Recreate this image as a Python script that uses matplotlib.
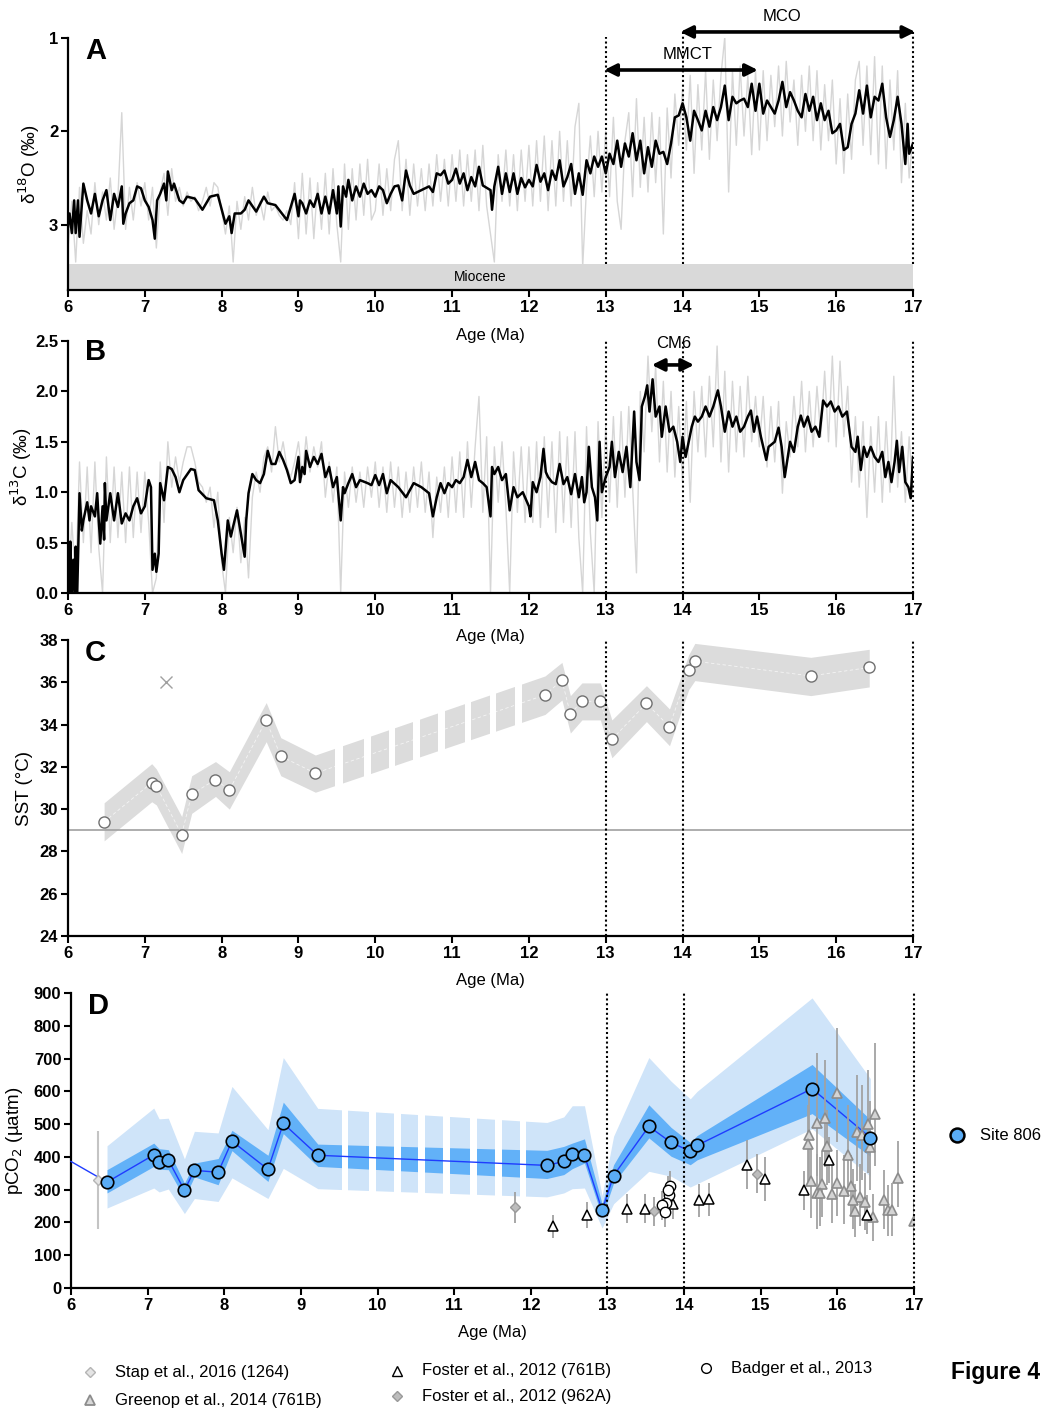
import numpy as np
import matplotlib
matplotlib.use("Agg")
import matplotlib.pyplot as plt

plt.rcParams['font.family'] = ['Liberation Sans', 'DejaVu Sans']

W, H = 1045, 1408

# ---------------- data ----------------
# panel A, d18O: smoothed record (black)
a_age = [6.00, 6.02, 6.05, 6.08, 6.10, 6.13, 6.15, 6.20, 6.25, 6.30, 6.35, 6.40, 6.45, 6.50, 6.55, 6.60,
         6.65, 6.70, 6.72, 6.75, 6.80, 6.85, 6.90, 6.95, 7.00, 7.05, 7.10, 7.13, 7.16, 7.20, 7.25, 7.28,
         7.30, 7.35, 7.38, 7.45, 7.50, 7.55, 7.65, 7.75, 7.85, 7.95, 8.05, 8.10, 8.13, 8.17, 8.25, 8.30,
         8.35, 8.45, 8.55, 8.60, 8.70, 8.85, 8.95, 9.00, 9.02, 9.05, 9.10, 9.15, 9.20, 9.25, 9.30, 9.35,
         9.40, 9.45, 9.50, 9.52, 9.55, 9.58, 9.62, 9.65, 9.70, 9.75, 9.80, 9.85, 9.90, 9.95, 10.00, 10.05,
         10.10, 10.15, 10.20, 10.25, 10.30, 10.35, 10.40, 10.45, 10.50, 10.60, 10.70, 10.75, 10.80, 10.85,
         10.90, 10.95, 11.00, 11.05, 11.10, 11.15, 11.20, 11.25, 11.30, 11.35, 11.40, 11.50, 11.52, 11.55,
         11.60, 11.65, 11.70, 11.75, 11.80, 11.85, 11.90, 11.95, 12.00, 12.05, 12.10, 12.15, 12.20, 12.25,
         12.30, 12.35, 12.40, 12.45, 12.50, 12.55, 12.60, 12.65, 12.70, 12.75, 12.80, 12.85, 12.90, 12.95,
         13.00, 13.05, 13.10, 13.15, 13.20, 13.25, 13.30, 13.35, 13.40, 13.45, 13.50, 13.55, 13.60, 13.65,
         13.70, 13.75, 13.80, 13.85, 13.90, 13.95, 14.00, 14.05, 14.10, 14.15, 14.20, 14.25, 14.30, 14.35,
         14.40, 14.45, 14.50, 14.55, 14.60, 14.65, 14.70, 14.75, 14.80, 14.85, 14.90, 14.95, 15.00, 15.05,
         15.10, 15.15, 15.20, 15.25, 15.30, 15.35, 15.40, 15.45, 15.50, 15.55, 15.60, 15.65, 15.70, 15.75,
         15.80, 15.85, 15.90, 15.95, 16.00, 16.05, 16.10, 16.15, 16.20, 16.25, 16.30, 16.35, 16.40, 16.45,
         16.50, 16.55, 16.60, 16.65, 16.70, 16.75, 16.80, 16.85, 16.90, 16.93, 16.95, 17.00]
a_d18o = [3.02, 2.88, 3.09, 2.74, 3.09, 2.74, 3.13, 2.56, 2.74, 2.88, 2.67, 2.91, 2.74, 2.63, 2.95, 2.67,
          2.81, 2.59, 2.99, 2.88, 2.77, 2.74, 2.59, 2.61, 2.74, 2.81, 2.95, 3.15, 2.74, 2.67, 2.56, 2.74,
          2.43, 2.63, 2.56, 2.74, 2.77, 2.70, 2.72, 2.84, 2.70, 2.68, 2.99, 2.91, 3.09, 2.88, 2.88, 2.84,
          2.74, 2.86, 2.70, 2.77, 2.79, 2.95, 2.67, 2.91, 2.74, 2.77, 2.88, 2.74, 2.81, 2.67, 2.88, 2.70,
          2.88, 2.63, 2.88, 2.59, 3.02, 2.59, 2.70, 2.52, 2.74, 2.59, 2.70, 2.56, 2.67, 2.63, 2.70, 2.59,
          2.63, 2.77, 2.67, 2.59, 2.58, 2.74, 2.42, 2.58, 2.67, 2.63, 2.59, 2.65, 2.45, 2.47,
          2.42, 2.56, 2.52, 2.40, 2.56, 2.45, 2.63, 2.49, 2.59, 2.38, 2.58, 2.63, 2.84, 2.59,
          2.38, 2.67, 2.45, 2.65, 2.45, 2.67, 2.50, 2.60, 2.52, 2.59, 2.36, 2.54, 2.45, 2.63,
          2.42, 2.52, 2.31, 2.59, 2.49, 2.35, 2.67, 2.45, 2.68, 2.31, 2.45, 2.27, 2.38, 2.27,
          2.45, 2.24, 2.35, 2.10, 2.38, 2.13, 2.27, 2.02, 2.31, 2.10, 2.45, 2.17, 2.38, 2.10,
          2.24, 2.22, 2.35, 2.13, 1.85, 1.83, 1.70, 1.85, 2.10, 1.78, 1.88, 1.99, 1.78, 1.95,
          1.74, 1.88, 1.74, 1.51, 1.88, 1.63, 1.70, 1.67, 1.65, 1.74, 1.49, 1.78, 1.49, 1.81,
          1.67, 1.74, 1.81, 1.67, 1.47, 1.74, 1.58, 1.67, 1.78, 1.85, 1.60, 1.78, 1.63, 1.88,
          1.70, 1.88, 1.78, 2.02, 1.99, 1.92, 2.20, 2.17, 1.92, 1.81, 1.56, 1.81, 1.51, 1.85,
          1.63, 1.67, 1.49, 1.85, 2.06, 1.88, 1.63, 1.92, 2.35, 1.92, 2.24, 2.13]

# panel A, d18O: raw record (grey), every 0.05 Ma from 6 to 17
raw_age = np.round(np.linspace(6, 17, 221), 2)
a_raw = [3.25, 2.75, 3.40, 2.60, 3.20, 2.85, 3.10, 2.55, 3.00, 2.65, 2.95, 2.50, 3.05, 2.70, 1.80, 3.05, 2.60, 2.95, 2.55, 2.80,
         2.55, 2.95, 2.60, 3.25, 2.65, 2.45, 2.90, 2.40, 2.75, 2.60, 2.80, 2.65, 2.75, 2.70, 2.85, 2.75, 2.60, 2.80, 2.55, 2.60,
         2.85, 3.10, 2.80, 3.40, 2.75, 3.05, 2.70, 2.95, 2.60, 2.90, 2.75, 2.95, 2.65, 2.85, 2.80, 2.90, 2.95, 2.85, 3.00, 2.55,
         3.15, 2.45, 3.10, 2.50, 3.15, 2.55, 3.05, 2.45, 3.10, 2.40, 3.00, 3.40, 2.35, 3.05, 2.40, 2.95, 2.35, 2.90, 2.30, 2.95,
         2.85, 2.35, 2.90, 2.40, 2.85, 2.30, 2.10, 2.85, 2.30, 2.90, 2.35, 2.80, 2.40, 2.85, 2.35, 2.80, 2.25, 2.75, 2.30, 2.80,
         2.25, 2.75, 2.20, 2.80, 2.25, 2.75, 2.20, 2.85, 2.15, 2.80, 3.10, 3.40, 2.25, 2.75, 2.20, 2.80, 2.25, 2.85, 2.20, 2.75,
         2.15, 2.80, 2.10, 2.75, 2.05, 2.85, 2.10, 2.80, 2.00, 2.75, 2.10, 2.80, 1.95, 1.70, 3.45, 2.60, 2.05, 2.70, 2.00, 2.65,
         2.00, 2.70, 1.85, 2.75, 3.05, 2.10, 1.80, 2.70, 1.65, 2.60, 1.85, 2.65, 1.80, 2.55, 1.85, 3.10, 1.75, 2.50, 1.60, 2.15,
         1.55, 2.20, 1.40, 2.45, 1.50, 2.20, 1.35, 2.30, 1.45, 2.10, 1.40, 0.99, 2.65, 1.35, 2.15, 1.30, 2.05, 1.40, 2.25, 1.35,
         2.20, 1.35, 2.10, 1.40, 1.95, 1.30, 2.05, 1.25, 1.90, 1.45, 2.15, 1.40, 2.00, 1.30, 2.10, 1.35, 2.20, 1.50, 2.10, 1.45,
         2.35, 1.65, 2.45, 1.60, 2.30, 1.45, 1.25, 2.15, 1.30, 2.25, 1.20, 2.35, 1.30, 2.40, 1.45, 2.20, 1.35, 2.55, 1.70, 2.50,
         2.05]

# panel B, d13C: smoothed record (black)
b_age = [6.00, 6.02, 6.03, 6.05, 6.07, 6.09, 6.10, 6.12, 6.15, 6.18, 6.20, 6.25, 6.28, 6.30, 6.35, 6.38,
         6.40, 6.42, 6.45, 6.47, 6.48, 6.50, 6.55, 6.60, 6.65, 6.70, 6.75, 6.80, 6.85, 6.90, 6.95, 7.00,
         7.05, 7.08, 7.10, 7.13, 7.15, 7.18, 7.20, 7.25, 7.30, 7.35, 7.40, 7.45, 7.50, 7.60, 7.65, 7.70,
         7.80, 7.90, 7.95, 8.00, 8.03, 8.08, 8.12, 8.15, 8.20, 8.25, 8.30, 8.32, 8.35, 8.40, 8.45, 8.50,
         8.55, 8.60, 8.65, 8.70, 8.75, 8.80, 8.85, 8.90, 8.95, 9.00, 9.02, 9.05, 9.08, 9.10, 9.15, 9.20,
         9.25, 9.30, 9.35, 9.40, 9.45, 9.50, 9.55, 9.58, 9.60, 9.65, 9.70, 9.75, 9.80, 9.90, 9.95, 10.00,
         10.05, 10.10, 10.15, 10.20, 10.30, 10.40, 10.45, 10.50, 10.60, 10.70, 10.75, 10.80, 10.85, 10.90,
         10.95, 11.00, 11.05, 11.10, 11.15, 11.20, 11.25, 11.30, 11.35, 11.40, 11.45, 11.50, 11.52, 11.55,
         11.60, 11.65, 11.70, 11.75, 11.80, 11.85, 11.92, 12.00, 12.02, 12.05, 12.10, 12.15, 12.19, 12.22,
         12.25, 12.30, 12.35, 12.40, 12.45, 12.50, 12.55, 12.60, 12.65, 12.69, 12.72, 12.75, 12.78, 12.82,
         12.86, 12.89, 12.92, 12.95, 13.00, 13.05, 13.08, 13.12, 13.17, 13.22, 13.27, 13.32, 13.35, 13.37,
         13.40, 13.44, 13.47, 13.51, 13.54, 13.57, 13.61, 13.65, 13.70, 13.73, 13.78, 13.83, 13.88, 13.93,
         13.97, 14.00, 14.04, 14.08, 14.12, 14.16, 14.20, 14.25, 14.30, 14.35, 14.40, 14.46, 14.50, 14.55,
         14.60, 14.65, 14.70, 14.75, 14.80, 14.85, 14.89, 14.93, 14.97, 15.02, 15.09, 15.12, 15.20, 15.25,
         15.29, 15.33, 15.37, 15.40, 15.45, 15.50, 15.54, 15.58, 15.63, 15.68, 15.73, 15.78, 15.83, 15.88,
         15.93, 15.98, 16.03, 16.08, 16.14, 16.20, 16.25, 16.28, 16.32, 16.36, 16.40, 16.45, 16.50, 16.55,
         16.60, 16.64, 16.68, 16.72, 16.76, 16.79, 16.82, 16.86, 16.90, 16.94, 16.97, 17.00]
b_d13c = [0.39, 0.00, 0.51, 0.00, 0.33, 0.00, 0.46, 0.00, 0.99, 0.62, 0.72, 0.90, 0.72, 0.86, 0.76, 0.99,
          0.72, 0.49, 0.86, 0.53, 1.09, 0.72, 0.99, 0.72, 0.99, 0.69, 0.79, 0.72, 0.86, 0.94, 0.79, 0.86,
          1.12, 1.05, 0.23, 0.39, 0.21, 0.39, 1.09, 0.92, 1.25, 1.23, 1.15, 1.00, 1.12, 1.23, 1.22, 1.02,
          0.94, 0.92, 0.72, 0.39, 0.23, 0.72, 0.56, 0.66, 0.82, 0.59, 0.36, 0.72, 0.99, 1.18, 1.12, 1.09,
          1.18, 1.41, 1.28, 1.28, 1.40, 1.32, 1.22, 1.09, 1.12, 1.35, 1.10, 1.25, 1.18, 1.41, 1.25, 1.35,
          1.28, 1.38, 1.15, 1.25, 1.05, 1.15, 0.72, 1.05, 0.99, 1.09, 1.18, 1.05, 1.12, 1.09, 1.07, 1.17,
          1.07, 1.18, 0.99, 1.12, 1.05, 0.95, 1.02, 1.09, 1.05, 0.99, 0.76, 0.95, 1.09, 0.99,
          1.09, 1.05, 1.12, 1.09, 1.15, 1.32, 1.15, 1.30, 1.12, 1.09, 1.05, 0.76, 1.25, 1.18,
          1.25, 1.12, 1.18, 0.82, 1.05, 0.95, 1.00, 0.86, 0.76, 1.10, 1.00, 1.15, 1.43, 1.20,
          1.15, 1.10, 1.08, 1.28, 1.08, 1.15, 0.98, 1.18, 0.95, 1.15, 0.90, 1.00, 1.45, 1.05,
          0.95, 0.72, 1.50, 1.00, 1.15, 1.25, 1.50, 1.15, 1.40, 1.20, 1.45, 1.05, 1.50, 1.80,
          1.30, 1.12, 1.85, 1.95, 2.06, 1.80, 2.12, 1.75, 1.85, 1.55, 1.85, 1.60, 1.65, 1.50,
          1.30, 1.55, 1.35, 1.50, 1.65, 1.75, 1.70, 1.75, 1.85, 1.75, 1.85, 2.01, 1.85, 1.60,
          1.80, 1.65, 1.75, 1.60, 1.65, 1.75, 1.81, 1.60, 1.75, 1.55, 1.32, 1.45, 1.50, 1.64,
          1.45, 1.15, 1.35, 1.50, 1.40, 1.65, 1.76, 1.65, 1.75, 1.60, 1.65, 1.55, 1.91, 1.85,
          1.90, 1.80, 1.85, 1.75, 1.80, 1.45, 1.40, 1.55, 1.22, 1.45, 1.35, 1.45, 1.35, 1.30,
          1.40, 1.15, 1.30, 1.10, 1.30, 1.51, 1.20, 1.45, 1.10, 1.05, 0.94, 1.35]

# panel B, d13C: raw record (grey), same 0.05 Ma grid
b_raw = [0.00, 0.70, 0.10, 1.30, 0.50, 1.25, 0.40, 1.30, 0.45, 0.00, 1.35, 0.50, 1.25, 0.55, 1.20, 0.50, 1.25, 0.55, 1.20, 0.60,
         1.20, 0.70, 0.00, 0.15, 1.30, 0.70, 1.50, 1.05, 1.35, 1.10, 1.30, 1.45, 1.45, 1.30, 1.10, 1.05, 0.90, 1.05, 0.65, 1.00,
         0.30, 0.00, 0.75, 0.40, 0.85, 0.30, 0.75, 0.15, 0.95, 1.20, 1.00, 1.35, 1.45, 1.20, 1.65, 1.30, 1.50, 1.25, 1.15, 1.30,
         1.50, 1.15, 1.55, 1.20, 1.45, 1.25, 1.50, 0.95, 1.30, 0.90, 1.25, 0.00, 1.20, 0.85, 1.25, 0.90, 1.20, 0.85, 1.25, 0.95,
         1.30, 0.85, 1.25, 0.80, 1.30, 0.85, 1.25, 0.75, 1.20, 0.80, 1.25, 0.85, 1.30, 0.80, 1.20, 0.55, 1.15, 0.80, 1.25, 0.75,
         1.35, 0.80, 1.40, 0.75, 1.50, 0.85, 1.45, 1.95, 0.80, 1.55, 0.00, 1.45, 0.90, 1.50, 0.85, 0.00, 1.40, 0.80, 1.45, 0.70,
         1.45, 0.70, 1.50, 0.65, 1.55, 0.75, 1.50, 0.60, 1.60, 0.70, 1.55, 0.65, 1.60, 0.55, 0.00, 1.65, 0.60, 0.00, 1.70, 0.75,
         1.65, 0.90, 1.75, 0.85, 1.80, 0.95, 1.85, 1.05, 0.20, 2.00, 1.40, 2.35, 1.60, 2.25, 1.30, 2.10, 1.20, 2.00, 1.15, 1.85,
         1.10, 1.90, 0.90, 2.00, 1.40, 2.05, 1.35, 2.15, 1.45, 2.45, 1.30, 2.20, 1.20, 2.10, 1.40, 2.05, 1.35, 2.15, 1.50, 1.95,
         1.45, 1.95, 1.25, 1.85, 1.30, 1.90, 0.99, 1.70, 1.35, 1.95, 1.45, 2.10, 1.40, 2.00, 1.45, 2.05, 1.55, 2.20, 1.50, 2.35,
         1.45, 2.30, 1.55, 2.05, 1.10, 1.75, 1.05, 1.70, 0.75, 1.65, 1.00, 1.75, 0.90, 1.70, 1.00, 2.15, 1.05, 1.60, 0.90, 1.55,
         1.00]

# panel C, SST
sst_age = [6.47, 7.09, 7.15, 7.48, 7.61, 7.92, 8.10, 8.58, 8.77, 9.22, 12.21,
           12.43, 12.54, 12.69, 12.93, 13.08, 13.53, 13.83, 14.08, 14.16, 15.67, 16.43]
sst = [29.4, 31.25, 31.1, 28.8, 30.7, 31.4, 30.9, 34.2, 32.5, 31.7, 35.4,
       36.1, 34.5, 35.1, 35.1, 33.3, 35.0, 33.9, 36.6, 37.0, 36.3, 36.7]
sst_hi = [30.3, 32.15, 31.9, 29.65, 31.58, 32.25, 31.77, 35.04, 33.38, 32.56, 36.3,
          36.94, 35.37, 35.97, 35.97, 34.22, 35.84, 34.74, 37.3, 37.84, 37.18, 37.56]
sst_lo = [28.5, 30.35, 30.2, 27.9, 29.8, 30.6, 30.0, 33.19, 31.58, 30.8, 34.48,
          35.16, 33.6, 34.22, 34.22, 32.43, 34.14, 33.0, 35.65, 36.08, 35.37, 35.78]
sst_x_age, sst_x = 7.27, 36.0          # outlier (cross)
modern_sst = 29.0

# panel D, pCO2 Site 806
co2_age = [6.47, 7.08, 7.15, 7.27, 7.48, 7.61, 7.92, 8.10, 8.57, 8.77, 9.22, 12.21,
           12.43, 12.54, 12.70, 12.93, 13.08, 13.54, 13.83, 14.08, 14.17, 15.67, 16.43]
co2 = [323, 406, 383, 391, 298, 359, 353, 448, 362, 502, 405, 374,
       386, 410, 405, 237, 343, 493, 444, 417, 435, 608, 459]
co2_hi1 = [361, 442, 425, 422, 320, 381, 395, 481, 405, 567, 439, 420,
           432, 442, 455, 257, 376, 559, 490, 444, 465, 682, 514]
co2_lo1 = [290, 371, 362, 361, 275, 339, 315, 419, 325, 471, 371, 334,
           346, 364, 381, 217, 320, 458, 402, 376, 391, 532, 402]
co2_hi2 = [434, 549, 516, 518, 394, 478, 473, 615, 483, 703, 548, 505,
           522, 556, 556, 282, 463, 703, 631, 577, 600, 885, 639]
co2_lo2 = [244, 305, 293, 302, 227, 273, 264, 336, 273, 365, 303, 278,
           290, 303, 305, 183, 257, 356, 341, 308, 318, 486, 341]
co2_lead_age, co2_lead = 6.0, 386      # line coming in from older part of record

# other pCO2 records
stap_age, stap, stap_err = [6.35], [330], [150]
foster962_age = [11.80, 13.61, 14.955]
foster962 = [246, 234, 349]
foster962_err = [48, 45, 60]
foster761_age = [12.29, 12.735, 13.26, 13.49, 13.85, 14.19, 14.33, 14.82, 15.06, 15.57, 15.89, 16.39]
foster761 = [188, 222, 242, 242, 256, 267, 271, 376, 333, 298, 391, 224]
foster761_err = [35, 40, 45, 45, 45, 50, 50, 75, 68, 60, 70, 60]
badger_age = [13.82, 13.80, 13.79, 13.76, 13.71, 13.755]
badger = [312, 284, 298, 259, 252, 231]
badger_err = [45, 45, 45, 45, 45, 45]
greenop_age = [16.00, 16.49, 15.84, 15.74, 16.395, 16.25, 16.32, 15.63, 15.62, 16.43, 15.86, 16.14, 16.79, 15.66, 15.80,
               15.99, 16.18, 15.73, 15.77, 15.93, 16.09, 16.29, 16.21, 16.36, 16.61, 16.23, 16.66, 16.71, 17.00, 16.46]
greenop = [595, 531, 520, 503, 500, 475, 468, 468, 439, 429, 434, 407, 337, 325, 317,
           320, 310, 290, 290, 287, 295, 279, 269, 262, 269, 236, 239, 239, 203, 218]
greenop_up = [198, 216, 176, 214, 166, 175, 152, 127, 120, 140, 110, 150, 110, 110, 100,
              100, 95, 120, 110, 90, 110, 100, 95, 90, 90, 80, 75, 80, 70, 70]
greenop_dn = [150, 160, 150, 160, 150, 150, 140, 140, 120, 130, 120, 130, 90, 110, 100,
              100, 90, 110, 100, 90, 100, 90, 90, 85, 90, 80, 80, 80, 70, 75]

events = [13, 14, 17]
sst_gaps = [(9.48, 9.58), (9.855, 9.94), (10.18, 10.26), (10.49, 10.58),
            (10.82, 10.91), (11.17, 11.25), (11.49, 11.57), (11.82, 11.91)]
co2_gaps = [(9.53, 9.62), (9.89, 9.98), (10.22, 10.30), (10.53, 10.62),
            (10.86, 10.95), (11.20, 11.30), (11.53, 11.62), (11.86, 11.94)]

# ---------------- figure ----------------
fig = plt.figure(figsize=(W / 100, H / 100), dpi=100)


def px_axes(l, t, r, b):
    ax = fig.add_axes([l / W, 1 - b / H, (r - l) / W, (b - t) / H])
    ax.patch.set_visible(False)      # so the "Age (Ma)" of the panel above is not hidden
    return ax


def style(ax):
    for s in ['top', 'right']:
        ax.spines[s].set_visible(False)
    for s in ['left', 'bottom']:
        ax.spines[s].set_linewidth(1.6)
    ax.tick_params(width=1.5, length=5, labelsize=12, pad=2)
    for lab in ax.get_xticklabels() + ax.get_yticklabels():
        lab.set_fontweight('bold')
    ax.set_xlim(6, 17)
    ax.set_xticks(range(6, 18))
    ax.set_xlabel('Age (Ma)', fontsize=12)


def dotted(ax, x, y0=0, y1=1):
    ax.axvline(x, ymin=y0, ymax=y1, color='k', lw=1.5, ls=(0, (1, 1.3)), clip_on=False, zorder=6)


# ----- A -----
axA = px_axes(68, 38, 913, 290)
axA.plot(raw_age, a_raw, color='#d6d6d6', lw=1, zorder=1)
axA.plot(a_age, a_d18o, color='k', lw=1.8, zorder=3)
axA.axhspan(3.42, 3.7, color='#d9d9d9', zorder=2, lw=0)
axA.text(11.36, 3.56, 'Miocene', ha='center', va='center', fontsize=10, zorder=4)
axA.set_ylim(3.7, 1)
axA.set_yticks([1, 2, 3])
style(axA)
axA.xaxis.set_label_coords(0.5, -0.15)
axA.set_ylabel(r'δ$^{18}$O (‰)', fontsize=13.5)
axA.yaxis.set_label_coords(-0.031, 0.5)
axA.text(0.02, 0.95, 'A', transform=axA.transAxes, fontsize=21, fontweight='bold', va='center')
dotted(axA, 13, 0.103, 1.004)
dotted(axA, 14, 0.103, 1.03)
dotted(axA, 17, 0.103, 1.03)
arrow = dict(arrowstyle='<|-|>', lw=2.6, color='k', mutation_scale=18, shrinkA=0, shrinkB=0)
axA.annotate('', xy=(17.03, 1.024), xytext=(13.97, 1.024), xycoords=('data', 'axes fraction'),
             textcoords=('data', 'axes fraction'), arrowprops=arrow, annotation_clip=False)
axA.annotate('', xy=(14.98, 0.873), xytext=(12.98, 0.873), xycoords=('data', 'axes fraction'),
             textcoords=('data', 'axes fraction'), arrowprops=arrow, annotation_clip=False)
axA.text(15.3, 1.087, 'MCO', transform=axA.get_xaxis_transform(), ha='center', va='center', fontsize=12)
axA.text(14.07, 0.933, 'MMCT', transform=axA.get_xaxis_transform(), ha='center', va='center', fontsize=12)

# ----- B -----
axB = px_axes(68, 341, 913, 593)
axB.plot(raw_age, b_raw, color='#d6d6d6', lw=1, zorder=1)
axB.plot(b_age, b_d13c, color='k', lw=1.8, zorder=3)
axB.set_ylim(0, 2.5)
axB.set_yticks([0, 0.5, 1.0, 1.5, 2.0, 2.5])
axB.set_yticklabels(['0.0', '0.5', '1.0', '1.5', '2.0', '2.5'])
style(axB)
axB.xaxis.set_label_coords(0.5, -0.143)
axB.set_ylabel(r'δ$^{13}$C (‰)', fontsize=13.5)
axB.yaxis.set_label_coords(-0.04, 0.5)
axB.text(0.02, 0.955, 'B', transform=axB.transAxes, fontsize=21, fontweight='bold', va='center')
for e in events:
    dotted(axB, e)
axB.annotate('', xy=(14.15, 0.905), xytext=(13.6, 0.905), xycoords=('data', 'axes fraction'),
             textcoords=('data', 'axes fraction'), arrowprops=arrow, annotation_clip=False)
axB.text(13.88, 0.992, 'CM6', transform=axB.get_xaxis_transform(), ha='center', va='center', fontsize=12)

# ----- C -----
axC = px_axes(68, 640, 913, 936)
axC.fill_between(sst_age, sst_lo, sst_hi, color='#dcdcdc', lw=0, zorder=1)
for g0, g1 in sst_gaps:
    axC.axvspan(g0, g1, ymin=0.35, ymax=0.95, color='white', lw=0, zorder=2)
axC.plot(sst_age, sst, color='white', lw=0.6, alpha=0.7, ls=(0, (4, 3)), zorder=3)
axC.axhline(modern_sst, color='#a0a0a0', lw=1.2, zorder=2)
axC.plot(sst_age, sst, ls='none', marker='o', ms=8, mfc='white', mec='#707070', mew=1, zorder=5)
axC.plot([sst_x_age], [sst_x], ls='none', marker='x', ms=9, mec='#a0a0a0', mew=1, zorder=5)
axC.set_ylim(24, 38)
axC.set_yticks(range(24, 39, 2))
style(axC)
axC.xaxis.set_label_coords(0.5, -0.125)
axC.set_ylabel('SST (°C)', fontsize=13.5)
axC.yaxis.set_label_coords(-0.042, 0.5)
axC.text(0.02, 0.955, 'C', transform=axC.transAxes, fontsize=21, fontweight='bold', va='center')
for e in events:
    dotted(axC, e)

# ----- D -----
axD = px_axes(71, 993, 914, 1288)
axD.fill_between(co2_age, co2_lo2, co2_hi2, color='#cfe4f9', lw=0, zorder=1)
axD.fill_between(co2_age, co2_lo1, co2_hi1, color='#62b1f8', lw=0, zorder=1.5)
for g0, g1 in co2_gaps:
    axD.axvspan(g0, g1, ymin=0.2, ymax=0.75, color='white', lw=0, zorder=2)
axD.plot([co2_lead_age] + co2_age[:1], [co2_lead] + co2[:1], color='#1f3cff', lw=1, zorder=3, clip_on=False)
axD.plot(co2_age, co2, color='#1f3cff', lw=1, zorder=3)
for e in events:
    dotted(axD, e)

axD.errorbar(stap_age, stap, yerr=stap_err, fmt='none', ecolor='#c4c4c4', elinewidth=1.5, zorder=4)
axD.errorbar(greenop_age, greenop, yerr=[greenop_dn, greenop_up], fmt='none', ecolor='#a2a2a2',
             elinewidth=1.3, zorder=4)
axD.errorbar(foster761_age, foster761, yerr=foster761_err, fmt='none', ecolor='#a0a0a0', elinewidth=1.3, zorder=4)
axD.errorbar(foster962_age, foster962, yerr=foster962_err, fmt='none', ecolor='#a0a0a0', elinewidth=1.3, zorder=4)
axD.errorbar(badger_age, badger, yerr=badger_err, fmt='none', ecolor='#a0a0a0', elinewidth=1.3, zorder=4)

axD.plot(stap_age, stap, ls='none', marker='D', ms=5, mfc='#e4e4e4', mec='#b4b4b4', zorder=5)
axD.plot(greenop_age, greenop, ls='none', marker='^', ms=7, mfc='#d4d4d4', mec='#8c8c8c', mew=1.2, zorder=5)
axD.plot(foster761_age, foster761, ls='none', marker='^', ms=7.5, mfc='white', mec='k', mew=1.1, zorder=6)
axD.plot(foster962_age, foster962, ls='none', marker='D', ms=5, mfc='#bdbdbd', mec='#999999', zorder=5)
axD.plot(badger_age, badger, ls='none', marker='o', ms=7.5, mfc='white', mec='k', mew=1, zorder=6)
axD.plot(co2_age, co2, ls='none', marker='o', ms=9, mfc='#5aacf5', mec='k', mew=1.2, zorder=7)

axD.set_ylim(0, 900)
axD.set_yticks(range(0, 901, 100))
style(axD)
axD.xaxis.set_label_coords(0.5, -0.125)
axD.set_ylabel(r'pCO$_2$ (µatm)', fontsize=13.5)
axD.yaxis.set_label_coords(-0.055, 0.5)
axD.text(0.02, 0.955, 'D', transform=axD.transAxes, fontsize=21, fontweight='bold', va='center')

# ----- legends -----
def fx(x):
    return x / W


def fy(y):
    return 1 - y / H


def fig_marker(x, y, **kw):
    fig.add_artist(plt.Line2D([fx(x)], [fy(y)], ls='none', transform=fig.transFigure, **kw))


fig_marker(957, 1135, marker='o', ms=10, mfc='#5aacf5', mec='k', mew=1.8)
fig.text(fx(980), fy(1135), 'Site 806', fontsize=12, va='center')

fig_marker(90, 1372, marker='D', ms=5, mfc='#e4e4e4', mec='#b4b4b4')
fig.text(fx(115), fy(1372), 'Stap et al., 2016 (1264)', fontsize=12, va='center')
fig_marker(90, 1400, marker='^', ms=7, mfc='#d8d8d8', mec='#8c8c8c', mew=1.3)
fig.text(fx(115), fy(1400), 'Greenop et al., 2014 (761B)', fontsize=12, va='center')
fig_marker(397, 1371, marker='^', ms=7, mfc='white', mec='k', mew=1)
fig.text(fx(422), fy(1371), 'Foster et al., 2012 (761B)', fontsize=12, va='center')
fig_marker(397, 1396, marker='D', ms=5, mfc='#bdbdbd', mec='#999999')
fig.text(fx(422), fy(1396), 'Foster et al., 2012 (962A)', fontsize=12, va='center')
fig_marker(706, 1368, marker='o', ms=7, mfc='white', mec='k', mew=1)
fig.text(fx(731), fy(1368), 'Badger et al., 2013', fontsize=12, va='center')
fig.text(fx(951), fy(1372), 'Figure 4', fontsize=16.5, fontweight='bold', va='center')

fig.savefig('out.png', dpi=100)
